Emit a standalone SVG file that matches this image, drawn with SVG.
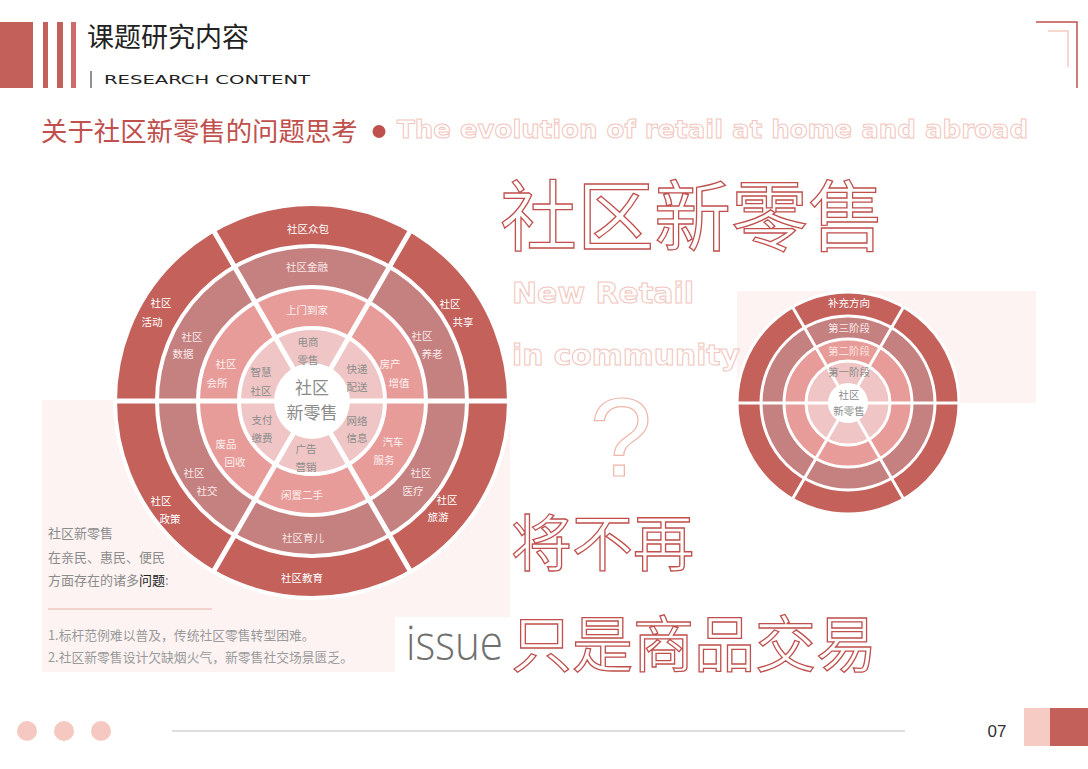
<svg xmlns="http://www.w3.org/2000/svg" width="1088" height="769" viewBox="0 0 1088 769">
<style>
.cjk{font-family:"Noto Sans CJK SC","Noto Sans",sans-serif}
.lat{font-family:"Liberation Sans",Arial,sans-serif}
.heavy{font-family:"DejaVu Sans","Liberation Sans",sans-serif;font-weight:bold}
.c1{fill:#c4615b}
.c2{fill:#c58080}
.c3{fill:#e89c99}
.c4{fill:#efc6c5}
.gap{stroke:#fff;stroke-width:4}
.gap2{stroke:#fff;stroke-width:3}
.div{stroke:#fff;stroke-width:5;fill:none}
.div2{stroke:#fff;stroke-width:3;fill:none}
.t1{fill:#ffffff;font-size:10.5px;text-anchor:middle}
.t2{fill:#f9e8e8;font-size:10.5px;text-anchor:middle}
.t3{fill:#fdf1f0;font-size:10.5px;text-anchor:middle}
.t4{fill:#8c8c8c;font-size:10.5px;text-anchor:middle}
.ctr{fill:#8c8c8c;font-size:17px;text-anchor:middle}
.bigred{fill:#fff;stroke:#c0504d;stroke-width:1.3}
.pinkout{fill:#fff;stroke:#f2c5bd;stroke-width:1}
.boxt{fill:#8c8c8c;font-size:13px}
.boxs{fill:#9a9a9a;font-size:12.8px}
</style>

<!-- background panels -->
<rect x="42" y="400" width="468" height="272" fill="#fcf3f2"/>
<rect x="395" y="617" width="115" height="55" fill="#fff"/>
<rect x="737" y="291" width="299" height="112" fill="#fcf3f2"/>

<!-- header -->
<g id="header">
  <rect x="0" y="22" width="33" height="66" fill="#c4605a"/>
  <rect x="43" y="22" width="5" height="66" fill="#c4605a"/>
  <rect x="57" y="22" width="6" height="66" fill="#c4605a"/>
  <rect x="71" y="22" width="5" height="66" fill="#cc6e67"/>
  <text x="87" y="47" class="cjk" font-size="27" fill="#222">课题研究内容</text>
  <line x1="91" y1="71" x2="91" y2="88" stroke="#222" stroke-width="1"/>
  <text x="104" y="84" font-family="'DejaVu Sans',sans-serif" font-size="11.5" fill="#222" textLength="206" lengthAdjust="spacingAndGlyphs">RESEARCH CONTENT</text>
</g>

<g id="corner">
  <polyline points="1036,22 1077,22 1077,88" fill="none" stroke="#c0504d" stroke-width="1.5"/>
  <polyline points="1048,31 1068,31 1068,67" fill="none" stroke="#f5cbc2" stroke-width="1.5"/>
</g>

<g id="title">
  <text x="41" y="141" class="cjk" font-size="26.4" fill="#c0504d">关于社区新零售的问题思考</text>
  <circle cx="379" cy="131.5" r="6.5" fill="#c0504d"/>
  <text x="397" y="138" class="heavy pinkout" font-size="25" textLength="631" lengthAdjust="spacingAndGlyphs">The evolution of retail at home and abroad</text>
</g>

<!-- left wheel -->
<g id="wheel-left">
  <circle cx="312" cy="401" r="197" class="c1 gap"/>
  <circle cx="312" cy="401" r="155" class="c2 gap"/>
  <circle cx="312" cy="401" r="114" class="c3 gap"/>
  <circle cx="312" cy="401" r="73" class="c4 gap"/>
  <g id="connectors-left">
    <line x1="115" y1="401" x2="509" y2="401" class="div"/>
    <line x1="213.5" y1="230.4" x2="410.5" y2="571.6" class="div"/>
    <line x1="410.5" y1="230.4" x2="213.5" y2="571.6" class="div"/>
  </g>
  <circle cx="312" cy="401" r="38" fill="#fff"/>
  <g id="center-left" class="cjk">
    <text x="312" y="393.5" class="ctr">社区</text>
    <text x="312" y="418.5" class="ctr">新零售</text>
  </g>
  <g id="ring1-labels" class="cjk">
    <text x="308" y="233" class="t1">社区众包</text>
    <text x="161" y="307" class="t1">社区</text><text x="152" y="326" class="t1">活动</text>
    <text x="450" y="308" class="t1">社区</text><text x="463" y="326" class="t1">共享</text>
    <text x="161" y="505" class="t1">社区</text><text x="170" y="523" class="t1">政策</text>
    <text x="447" y="504" class="t1">社区</text><text x="438" y="521" class="t1">旅游</text>
    <text x="302" y="582" class="t1">社区教育</text>
  </g>
  <g id="ring2-labels" class="cjk">
    <text x="307" y="271" class="t2">社区金融</text>
    <text x="192" y="341" class="t2">社区</text><text x="183" y="358" class="t2">数据</text>
    <text x="422" y="340" class="t2">社区</text><text x="432" y="358" class="t2">养老</text>
    <text x="194" y="477" class="t2">社区</text><text x="207" y="495" class="t2">社交</text>
    <text x="421" y="477" class="t2">社区</text><text x="413" y="495" class="t2">医疗</text>
    <text x="303" y="542" class="t2">社区育儿</text>
  </g>
  <g id="ring3-labels" class="cjk">
    <text x="307" y="314" class="t3">上门到家</text>
    <text x="226" y="368" class="t3">社区</text><text x="217" y="387" class="t3">会所</text>
    <text x="390" y="368" class="t3">房产</text><text x="399" y="387" class="t3">增值</text>
    <text x="226" y="448" class="t3">废品</text><text x="235" y="466" class="t3">回收</text>
    <text x="393" y="446" class="t3">汽车</text><text x="384" y="464" class="t3">服务</text>
    <text x="302" y="499" class="t3">闲置二手</text>
  </g>
  <g id="ring4-labels" class="cjk">
    <text x="308" y="346" class="t4">电商</text><text x="308" y="364" class="t4">零售</text>
    <text x="261" y="376" class="t4">智慧</text><text x="261" y="395" class="t4">社区</text>
    <text x="357" y="373" class="t4">快递</text><text x="357" y="391" class="t4">配送</text>
    <text x="262" y="424" class="t4">支付</text><text x="262" y="442" class="t4">缴费</text>
    <text x="357" y="425" class="t4">网络</text><text x="357" y="442" class="t4">信息</text>
    <text x="306" y="453" class="t4">广告</text><text x="306" y="471" class="t4">营销</text>
  </g>
</g>

<!-- right wheel -->
<g id="wheel-right">
  <circle cx="848" cy="403" r="111" class="c1 gap2"/>
  <circle cx="848" cy="403" r="87" class="c2 gap2"/>
  <circle cx="848" cy="403" r="64" class="c3 gap2"/>
  <circle cx="848" cy="403" r="42" class="c4 gap2"/>
  <g id="connectors-right">
    <line x1="736" y1="403" x2="960" y2="403" class="div2"/>
    <line x1="792.5" y1="306.9" x2="903.5" y2="499.1" class="div2"/>
    <line x1="903.5" y1="306.9" x2="792.5" y2="499.1" class="div2"/>
  </g>
  <circle cx="848" cy="403" r="20" fill="#fff"/>
  <g id="right-labels" class="cjk">
    <text x="849" y="307" class="t1">补充方向</text>
    <text x="849" y="332" class="t2">第三阶段</text>
    <text x="849" y="355" fill="#fde2df" font-size="10.5" text-anchor="middle">第二阶段</text>
    <text x="849" y="376" class="t4">第一阶段</text>
    <text x="849" y="399" class="t4">社区</text>
    <text x="849" y="415" class="t4">新零售</text>
  </g>
</g>

<!-- big outlined texts -->
<g id="headline">
  <text x="500" y="245" class="cjk bigred" font-size="77">社区新零售</text>
  <text x="512" y="303" class="heavy pinkout" font-size="28" textLength="182" lengthAdjust="spacingAndGlyphs">New Retail</text>
  <text x="512" y="365" class="heavy pinkout" font-size="28" textLength="228" lengthAdjust="spacingAndGlyphs">in community</text>
  <text x="621" y="476" font-family="'Liberation Sans',sans-serif" font-size="112" text-anchor="middle" fill="#fff" stroke="#f0b6ab" stroke-width="1.2">?</text>
  <text x="511" y="566" class="cjk bigred" font-size="61">将不再</text>
  <text x="511" y="667" class="cjk bigred" font-size="61">只是商品交易</text>
</g>

<!-- text box -->
<g id="issue-box" class="cjk">
  <text x="48" y="538" class="boxt">社区新零售</text>
  <text x="48" y="562" class="boxt">在亲民、惠民、便民</text>
  <text x="48" y="585" class="boxt">方面存在的诸多<tspan fill="#222">问题</tspan>:</text>
  <line x1="48" y1="609" x2="212" y2="609" stroke="#e8b0aa" stroke-width="1"/>
  <text x="48" y="639.5" class="boxs">1.标杆范例难以普及，传统社区零售转型困难。</text>
  <text x="48" y="662" class="boxs">2.社区新零售设计欠缺烟火气，新零售社交场景匮乏。</text>
  <text x="406" y="660" font-family="'Open Sans','Noto Sans',sans-serif" font-weight="300" font-size="47" fill="#707070" textLength="97" lengthAdjust="spacingAndGlyphs">issue</text>
</g>

<!-- footer -->
<g id="footer">
  <circle cx="27" cy="731" r="10" fill="#f5c9c2"/>
  <circle cx="64" cy="731" r="10" fill="#f5c9c2"/>
  <circle cx="101" cy="731" r="10" fill="#f5c9c2"/>
  <line x1="172" y1="731" x2="905" y2="731" stroke="#bdbdbd" stroke-width="1"/>
  <text x="997" y="737" font-family="'Liberation Sans',sans-serif" font-size="17" fill="#333" text-anchor="middle">07</text>
  <rect x="1024" y="708" width="26" height="38" fill="#f5cbc4"/>
  <rect x="1050" y="708" width="38" height="38" fill="#c4605a"/>
</g>
</svg>
